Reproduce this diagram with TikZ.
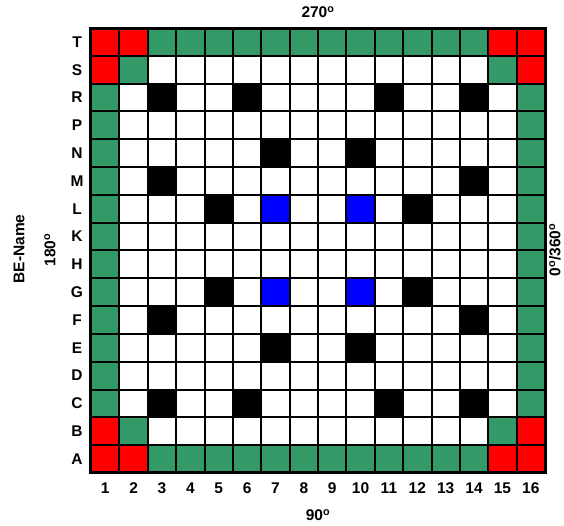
\documentclass[tikz,border=0pt]{standalone}
\usepackage{fontspec}
\setmainfont{Liberation Sans}
\usetikzlibrary{positioning}
\definecolor{clg}{HTML}{339966}
\definecolor{clr}{HTML}{FF0000}
\definecolor{clb}{HTML}{0000FF}
\definecolor{clk}{HTML}{000000}
\definecolor{clw}{HTML}{FFFFFF}
\tikzset{
  every picture/.style={font=\fontsize{15.5}{18}\selectfont\bfseries},
  cell/.style={draw=black, fill=cl#1, line width=2pt, minimum width=28.375pt, minimum height=27.81pt, inner sep=0pt, outer sep=0pt},
  lbl/.style={inner sep=1pt},
  angle/.style={inner sep=1pt},
}
\begin{document}
\begin{tikzpicture}[x=1pt, y=-1pt]
  \useasboundingbox (0,0) rectangle (564,526);
  % grid, one row of colour letters per row T ... A
  \foreach \cols/\r [count=\i] in {
    {r,r,g,g,g,g,g,g,g,g,g,g,g,g,r,r}/T,
    {r,g,w,w,w,w,w,w,w,w,w,w,w,w,g,r}/S,
    {g,w,k,w,w,k,w,w,w,w,k,w,w,k,w,g}/R,
    {g,w,w,w,w,w,w,w,w,w,w,w,w,w,w,g}/P,
    {g,w,w,w,w,w,k,w,w,k,w,w,w,w,w,g}/N,
    {g,w,k,w,w,w,w,w,w,w,w,w,w,k,w,g}/M,
    {g,w,w,w,k,w,b,w,w,b,w,k,w,w,w,g}/L,
    {g,w,w,w,w,w,w,w,w,w,w,w,w,w,w,g}/K,
    {g,w,w,w,w,w,w,w,w,w,w,w,w,w,w,g}/H,
    {g,w,w,w,k,w,b,w,w,b,w,k,w,w,w,g}/G,
    {g,w,k,w,w,w,w,w,w,w,w,w,w,k,w,g}/F,
    {g,w,w,w,w,w,k,w,w,k,w,w,w,w,w,g}/E,
    {g,w,w,w,w,w,w,w,w,w,w,w,w,w,w,g}/D,
    {g,w,k,w,w,k,w,w,w,w,k,w,w,k,w,g}/C,
    {r,g,w,w,w,w,w,w,w,w,w,w,w,w,g,r}/B,
    {r,r,g,g,g,g,g,g,g,g,g,g,g,g,r,r}/A} {
    \foreach \c [count=\j] in \cols
      \node[cell=\c] (c\i-\j) at (91+28.375*\j-14.19, 28+27.81*\i-13.9) {};
    \node[lbl] (row\r) at (77, 28+27.81*\i-13.9) {\r};
  }
  \draw[line width=3pt] (c1-1.north west) rectangle (c16-16.south east);
  % column numbers
  \foreach \j in {1,...,16}
    \node[lbl] (col\j) at (c16-\j |- 0,488) {\j};
  % angles
  \node[angle] (top) at (318,12) {270\textsuperscript{o}};
  \node[angle] (bottom) at (318,515) {90\textsuperscript{o}};
  \node[angle, rotate=90] (left) at (50,250) {180\textsuperscript{o}};
  \node[angle, rotate=90] (name) at (19,249) {BE-Name};
  \node[angle, rotate=90] (right) at (555,250) {0\textsuperscript{o}/360\textsuperscript{o}};
\end{tikzpicture}
\end{document}
